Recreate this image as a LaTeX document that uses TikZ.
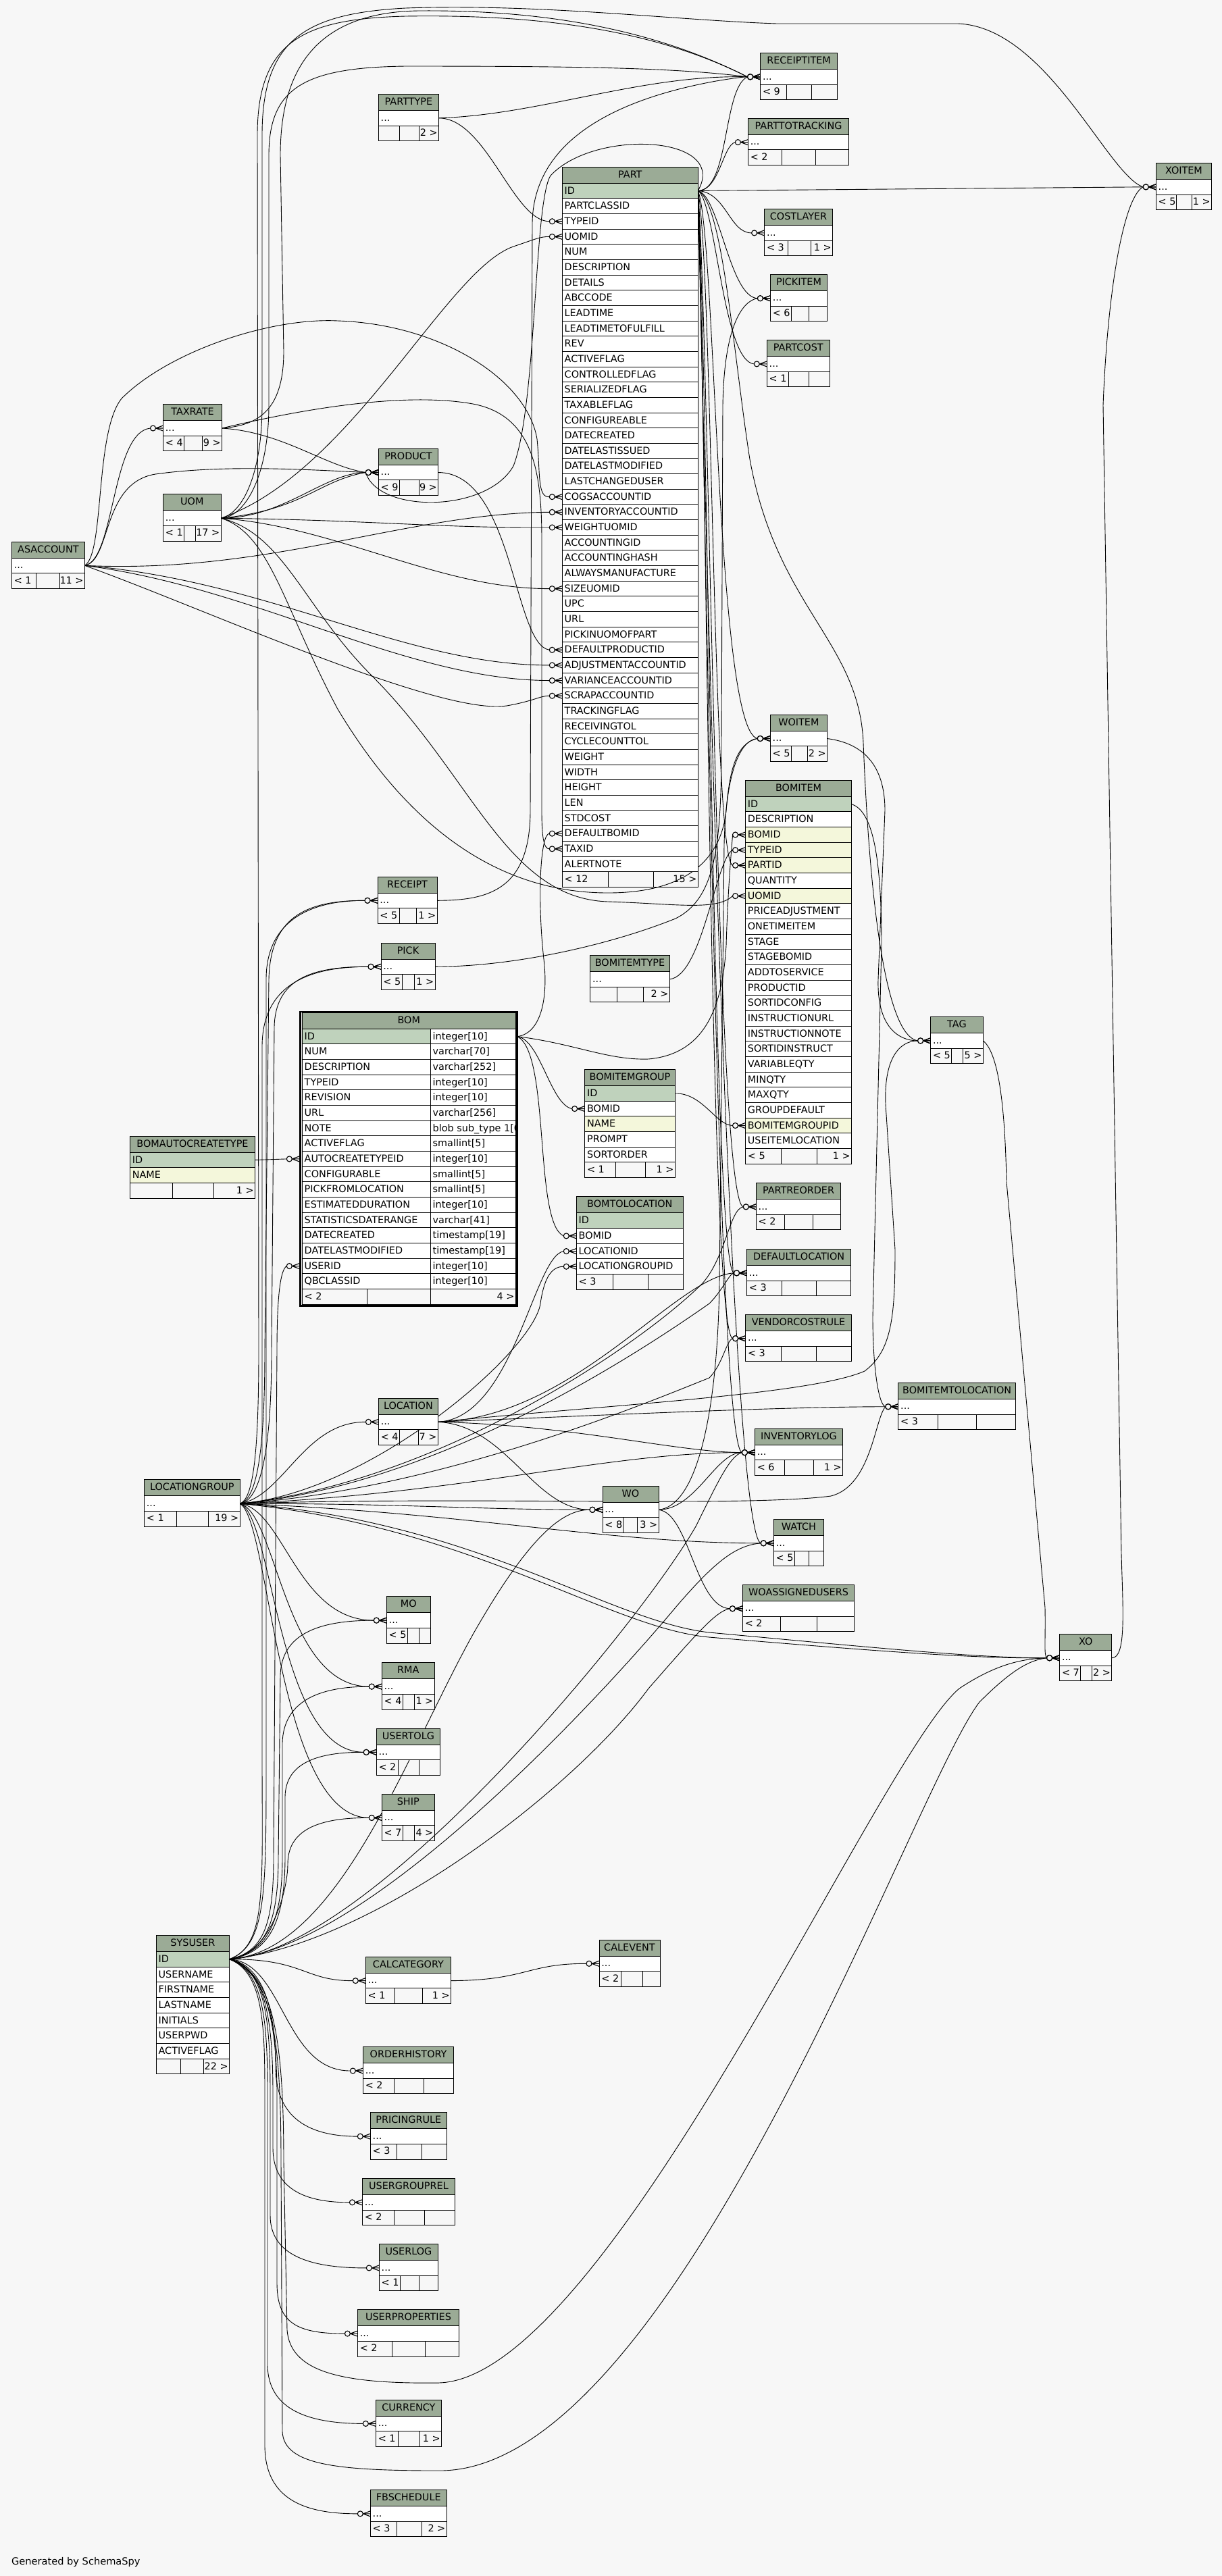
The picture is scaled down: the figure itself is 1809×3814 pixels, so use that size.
\documentclass[tikz,border=0pt]{standalone}
\usepackage{fontspec}
\setmainfont{DejaVu Sans}
\newfontfamily\djv{DejaVu Sans}
\definecolor{bgc}{HTML}{F7F7F7}
\definecolor{hdr}{HTML}{9BAB96}
\definecolor{pkc}{HTML}{BFD2BC}
\definecolor{ixc}{HTML}{F4F7DB}
\newcommand\tabfont{\djv\fontsize{7.2}{8.6}\selectfont}
\pgfdeclarelayer{bglayer}
\pgfdeclarelayer{edgelayer}
\pgfsetlayers{bglayer,edgelayer,main}
\tikzset{
 tx/.style={font=\tabfont, inner sep=0pt, text=black},
 tb/.style={line width=0.5pt},
 ed/.style={line width=0.45pt},
 crl/.style={line width=0.55pt},
}
% small table: name, x1, y1, x2, split1, split2, left footer, right footer
\newcommand\stab[8]{%
 \fill[hdr] (#2,#3) rectangle (#4,#3+24);
 \fill[white] (#2,#3+24) rectangle (#4,#3+46.6);
 \draw[tb] (#2,#3) rectangle (#4,#3+69.2);
 \draw[tb] (#2,#3+24) -- (#4,#3+24) (#2,#3+46.6) -- (#4,#3+46.6)
   (#5,#3+46.6) -- (#5,#3+69.2) (#6,#3+46.6) -- (#6,#3+69.2);
 \node[tx,anchor=base] (#1) at ({(#2+#4)/2},#3+16) {#1};
 \node[tx,anchor=base west] (#1-dots) at (#2+3,#3+39.5) {...};
 \node[tx,anchor=base west] (#1-fl) at (#2+3,#3+62) {#7};
 \node[tx,anchor=base east] (#1-fr) at (#4-1.5,#3+62) {#8};
 \coordinate (#1-w) at (#2,#3+35.3);
 \coordinate (#1-e) at (#4,#3+35.3);
}
% full table: name, x1, y1, x2, rows, split1, split2, left footer, right footer
\newcommand\ftab[9]{%
 \fill[hdr] (#2,#3) rectangle (#4,#3+24);
 \node[tx,anchor=base] (#1) at ({(#2+#4)/2},#3+16) {#1};
 \foreach \rn/\rc [count=\ri from 0] in {#5} {
   \pgfmathsetmacro\ya{#3+24+22.66*\ri}
   \fill[\rc] (#2,\ya) rectangle (#4,\ya+22.66);
   \draw[tb] (#2,\ya) -- (#4,\ya);
   \node[tx,anchor=base west] (#1-\rn) at (#2+3,\ya+16) {\rn};
   \coordinate (#1-\rn-w) at (#2,\ya+11.33);
   \coordinate (#1-\rn-e) at (#4,\ya+11.33);
   \xdef\nrows{\ri}
 }
 \pgfmathsetmacro\yf{#3+24+22.66*(\nrows+1)}
 \draw[tb] (#2,\yf) -- (#4,\yf) (#6,\yf) -- (#6,\yf+22.66) (#7,\yf) -- (#7,\yf+22.66);
 \draw[tb] (#2,#3) rectangle (#4,\yf+22.66);
 \node[tx,anchor=base west] (#1-fl) at (#2+3,\yf+16) {#8};
 \node[tx,anchor=base east] (#1-fr) at (#4-1.5,\yf+16) {#9};
}
\newcommand\ce[1]{%
 \draw[crl] ([xshift=-5.5pt]#1) -- ([yshift=2pt]#1) ([xshift=-5.5pt]#1) -- ([yshift=-2pt]#1) ([xshift=-5.5pt]#1) -- (#1);
 \draw[crl,fill=bgc] ([xshift=-7.5pt]#1) circle[radius=2pt];}
\newcommand\E[2]{\draw[ed] #1 ([xshift=-9.5pt]#2); \ce{#2}}
\begin{document}
\begin{tikzpicture}[x=0.5pt,y=-0.5pt]
\begin{pgfonlayer}{bglayer}
\fill[bgc] (0,0) rectangle (1809,3814);
\end{pgfonlayer}
\useasboundingbox (0,0) rectangle (1809,3814);

% ---------------- tables ----------------
\ftab{PART}{832.3}{247.1}{1033.3}{ID/pkc, PARTCLASSID/white, TYPEID/white, UOMID/white, NUM/white, DESCRIPTION/white, DETAILS/white, ABCCODE/white, LEADTIME/white, LEADTIMETOFULFILL/white, REV/white, ACTIVEFLAG/white, CONTROLLEDFLAG/white, SERIALIZEDFLAG/white, TAXABLEFLAG/white, CONFIGUREABLE/white, DATECREATED/white, DATELASTISSUED/white, DATELASTMODIFIED/white, LASTCHANGEDUSER/white, COGSACCOUNTID/white, INVENTORYACCOUNTID/white, WEIGHTUOMID/white, ACCOUNTINGID/white, ACCOUNTINGHASH/white, ALWAYSMANUFACTURE/white, SIZEUOMID/white, UPC/white, URL/white, PICKINUOMOFPART/white, DEFAULTPRODUCTID/white, ADJUSTMENTACCOUNTID/white, VARIANCEACCOUNTID/white, SCRAPACCOUNTID/white, TRACKINGFLAG/white, RECEIVINGTOL/white, CYCLECOUNTTOL/white, WEIGHT/white, WIDTH/white, HEIGHT/white, LEN/white, STDCOST/white, DEFAULTBOMID/white, TAXID/white, ALERTNOTE/white}{900.3}{967.3}{< 12}{15 >}

\ftab{BOMITEM}{1103.5}{1155.3}{1260.6}{ID/pkc, DESCRIPTION/white, BOMID/ixc, TYPEID/ixc, PARTID/ixc, QUANTITY/white, UOMID/ixc, PRICEADJUSTMENT/white, ONETIMEITEM/white, STAGE/white, STAGEBOMID/white, ADDTOSERVICE/white, PRODUCTID/white, SORTIDCONFIG/white, INSTRUCTIONURL/white, INSTRUCTIONNOTE/white, SORTIDINSTRUCT/white, VARIABLEQTY/white, MINQTY/white, MAXQTY/white, GROUPDEFAULT/white, BOMITEMGROUPID/ixc, USEITEMLOCATION/white}{1156.7}{1209}{< 5}{1 >}

\ftab{BOMITEMGROUP}{865.7}{1583.6}{999.3}{ID/pkc, BOMID/white, NAME/ixc, PROMPT/white, SORTORDER/white}{911.3}{955.7}{< 1}{1 >}
\ftab{BOMTOLOCATION}{853.3}{1771.9}{1011.3}{ID/pkc, BOMID/white, LOCATIONID/white, LOCATIONGROUPID/white}{907.3}{959.3}{< 3}{}
\ftab{BOMAUTOCREATETYPE}{192.4}{1682.1}{377.6}{ID/pkc, NAME/ixc}{255.2}{316.3}{}{1 >}
\ftab{SYSUSER}{231.2}{2865.4}{339.6}{ID/pkc, USERNAME/white, FIRSTNAME/white, LASTNAME/white, INITIALS/white, USERPWD/white, ACTIVEFLAG/white}{267.3}{301.4}{}{22 >}

% BOM (focus table)
\fill[hdr] (447.3,1499.3) rectangle (763.3,1523.3);
\node[tx,anchor=base] (BOM) at (605.3,1515.3) {BOM};
\foreach \rn/\rty/\rc [count=\ri from 0] in {ID/integer[10]/pkc, NUM/varchar[70]/white, DESCRIPTION/varchar[252]/white, TYPEID/integer[10]/white, REVISION/integer[10]/white, URL/varchar[256]/white, NOTE/blob sub\_type 1[0]/white, ACTIVEFLAG/smallint[5]/white, AUTOCREATETYPEID/integer[10]/white, CONFIGURABLE/smallint[5]/white, PICKFROMLOCATION/smallint[5]/white, ESTIMATEDDURATION/integer[10]/white, STATISTICSDATERANGE/varchar[41]/white, DATECREATED/timestamp[19]/white, DATELASTMODIFIED/timestamp[19]/white, USERID/integer[10]/white, QBCLASSID/integer[10]/white}{
 \pgfmathsetmacro\ya{1523.3+22.66*\ri}
 \fill[\rc] (447.3,\ya) rectangle (637.3,\ya+22.66);
 \fill[white] (637.3,\ya) rectangle (763.3,\ya+22.66);
 \draw[tb] (447.3,\ya) -- (763.3,\ya);
 \node[tx,anchor=base west] (BOM-\rn) at (450.3,\ya+16) {\rn};
 \begin{scope}
 \clip (637.3,\ya) rectangle (763.3,\ya+22.66);
 \node[tx,anchor=base west] (BOM-\rn-type) at (640.3,\ya+16) {\rty};
 \end{scope}
 \coordinate (BOM-\rn-w) at (443.3,\ya+11.33);
 \coordinate (BOM-\rn-e) at (766,\ya+11.33);
}
\draw[tb] (447.3,1908.5) -- (763.3,1908.5) (543.3,1908.5) -- (543.3,1931.2) (637.3,1523.3) -- (637.3,1931.2);
\draw[tb] (447.3,1499.3) rectangle (763.3,1931.2);
\node[tx,anchor=base west] (BOM-fl) at (450.3,1924.5) {< 2};
\node[tx,anchor=base east] (BOM-fr) at (761.8,1924.5) {4 >};
\draw[line width=1.3pt] (444.6,1497.9) rectangle (765.3,1933.5);

\stab{PARTTYPE}{560.3}{139.5}{649.6}{591.5}{620.5}{}{2 >}
\stab{RECEIPTITEM}{1125.6}{78.5}{1239.5}{1164.6}{1201.3}{< 9}{}
\stab{PARTTOTRACKING}{1107.4}{175.3}{1256.7}{1157.6}{1207.4}{< 2}{}
\stab{XOITEM}{1711.3}{241.5}{1793.6}{1741.6}{1764.3}{< 5}{1 >}
\stab{COSTLAYER}{1131.6}{309.6}{1232.5}{1166}{1200}{< 3}{1 >}
\stab{PICKITEM}{1140.4}{406.4}{1224.6}{1171.6}{1197.6}{< 6}{}
\stab{PARTCOST}{1135.3}{503.6}{1228.3}{1167.4}{1197.6}{< 1}{}
\stab{TAXRATE}{241.5}{598.7}{328.6}{272.3}{299.6}{< 4}{9 >}
\stab{PRODUCT}{560.3}{664.2}{648.7}{591.5}{620.1}{< 9}{9 >}
\stab{UOM}{241.5}{731.9}{327.2}{272.8}{289.7}{< 1}{17 >}
\stab{ASACCOUNT}{17.4}{802}{125.4}{53.6}{88.8}{< 1}{11 >}
\stab{WOITEM}{1140.3}{1058.2}{1224.5}{1171.3}{1195.8}{< 5}{2 >}
\stab{RECEIPT}{559}{1298}{647}{591}{616}{< 5}{1 >}
\stab{PICK}{564}{1396}{644}{595}{613}{< 5}{1 >}
\stab{BOMITEMTYPE}{873.7}{1414.5}{991.3}{913.3}{952.7}{}{2 >}
\stab{TAG}{1377.6}{1505.6}{1455.3}{1408.2}{1425.8}{< 5}{5 >}
\stab{PARTREORDER}{1119.3}{1751.5}{1244.8}{1161.4}{1203.5}{< 2}{}
\stab{DEFAULTLOCATION}{1105.5}{1849.5}{1259.7}{1157.9}{1208.4}{< 3}{}
\stab{VENDORCOSTRULE}{1103.6}{1946.4}{1260.5}{1156.4}{1208.4}{< 3}{}
\stab{BOMITEMTOLOCATION}{1329.8}{2047.4}{1503.5}{1388.7}{1445.3}{< 3}{}
\stab{LOCATION}{560.4}{2070}{648.4}{591.6}{619.7}{< 4}{7 >}
\stab{INVENTORYLOG}{1117.4}{2115.3}{1247.5}{1161.4}{1204.6}{< 6}{1 >}
\stab{LOCATIONGROUP}{213.5}{2190.9}{355.2}{261.2}{308.5}{< 1}{19 >}
\stab{WO}{892}{2200}{975}{922}{943}{< 8}{3 >}
\stab{WATCH}{1145.3}{2249.5}{1219.5}{1176.3}{1197.3}{< 5}{}
\stab{MO}{572.3}{2363.8}{637.2}{603.2}{620.4}{< 5}{}
\stab{WOASSIGNEDUSERS}{1099.4}{2346.4}{1264.7}{1155.2}{1209.6}{< 2}{}
\stab{XO}{1568.6}{2419.4}{1645.9}{1599.2}{1616.4}{< 7}{2 >}
\stab{RMA}{565.3}{2461.8}{643.2}{596.5}{613.7}{< 4}{1 >}
\stab{USERTOLG}{557.2}{2559}{651.6}{589.1}{620.4}{< 2}{}
\stab{SHIP}{565.3}{2656.1}{643.2}{596.5}{613.7}{< 7}{4 >}
\stab{CALCATEGORY}{541.3}{2897.3}{667.6}{584.8}{625.5}{< 1}{1 >}
\stab{CALEVENT}{887}{2872}{977}{919}{951}{< 2}{}
\stab{ORDERHISTORY}{537.4}{3030.7}{671.8}{583.7}{627.6}{< 2}{}
\stab{PRICINGRULE}{548.3}{3127.8}{661.2}{587.2}{624.4}{< 3}{}
\stab{USERGROUPREL}{536.4}{3225.5}{673.5}{583.7}{628.6}{< 2}{}
\stab{USERLOG}{561.3}{3322.6}{648.6}{592.5}{620.2}{< 1}{}
\stab{USERPROPERTIES}{529.4}{3419.8}{679.5}{580.2}{629.3}{< 2}{}
\stab{CURRENCY}{556.4}{3553.1}{653.5}{589.3}{621.2}{< 1}{1 >}
\stab{FBSCHEDULE}{548.3}{3686.5}{661.2}{587.2}{624.4}{< 3}{2 >}

\node[anchor=base west, inner sep=0pt, font=\djv\fontsize{7.3}{9}\selectfont] (gen) at (16.7,3797) {Generated by SchemaSpy};

% ---------------- connectors ----------------
\begin{pgfonlayer}{edgelayer}
% PART.ID
\E{(PART-ID-e) .. controls (1080,282) and (1070,130) ..}{RECEIPTITEM-w}
\E{(PART-ID-e) .. controls (1065,282) and (1070,215) ..}{PARTTOTRACKING-w}
\E{(PART-ID-e) --}{XOITEM-w}
\E{(PART-ID-e) .. controls (1075,285) and (1080,345) ..}{COSTLAYER-w}
\E{(PART-ID-e) .. controls (1065,290) and (1080,440) ..}{PICKITEM-w}
\E{(PART-ID-e) .. controls (1060,300) and (1070,535) ..}{PARTCOST-w}
\E{(PART-ID-e) .. controls (1060,350) and (1060,1080) ..}{WOITEM-w}
\E{(PART-ID-e) .. controls (1055,400) and (1055,1270) ..}{BOMITEM-PARTID-w}
\E{(PART-ID-e) .. controls (1050,500) and (1060,1780) ..}{PARTREORDER-w}
\E{(PART-ID-e) .. controls (1048,550) and (1055,1880) ..}{DEFAULTLOCATION-w}
\E{(PART-ID-e) .. controls (1046,600) and (1050,1975) ..}{VENDORCOSTRULE-w}
\E{(PART-ID-e) .. controls (1044,650) and (1060,2140) ..}{INVENTORYLOG-w}
\E{(PART-ID-e) .. controls (1042,700) and (1080,2270) ..}{WATCH-w}
\E{(PART-ID-e) .. controls (1070,300) and (1085,520) .. (1110,680) .. controls (1150,900) and (1272,950) .. (1278,1100) .. controls (1290,1400) and (1320,1535) ..}{TAG-w}
\E{(PART-ID-e) .. controls (1080,200) and (880,190) .. (815,260) .. controls (790,300) and (795,600) .. (760,690) .. controls (720,760) and (560,760) ..}{PRODUCT-w}
% UOM
\E{(UOM-e) .. controls (520,700) and (660,400) .. (760,365) .. controls (790,355) and (800,350) ..}{PART-UOMID-w}
\E{(UOM-e) .. controls (360,760) and (388,700) .. (388,600) -- (388,200) .. controls (388,60) and (450,20) .. (600,12) .. controls (800,5) and (1000,30) .. (1150,35) -- (1418,35) .. controls (1550,40) and (1640,260) ..}{XOITEM-w}
\E{(UOM-e) .. controls (365,765) and (398,700) .. (398,600) -- (398,230) .. controls (398,130) and (450,100) .. (600,98) .. controls (850,98) and (1000,100) ..}{RECEIPTITEM-w}
\E{(UOM-e) .. controls (420,767) and (480,700) ..}{PRODUCT-w}
\E{(UOM-e) .. controls (450,755) and (470,712) ..}{PRODUCT-w}
\E{(UOM-e) .. controls (550,770) and (650,782) ..}{PART-WEIGHTUOMID-w}
\E{(UOM-e) .. controls (500,780) and (650,872) ..}{PART-SIZEUOMID-w}
\E{(UOM-e) .. controls (420,790) and (450,900) .. (550,1000) .. controls (700,1150) and (750,1330) .. (900,1335) .. controls (1000,1338) and (1060,1349) ..}{BOMITEM-UOMID-w}
\E{(UOM-e) .. controls (400,790) and (420,900) .. (500,1050) .. controls (620,1250) and (760,1322) .. (900,1322) .. controls (1040,1322) and (1070,1250) .. (1075,1200) .. controls (1080,1140) and (1090,1100) ..}{WOITEM-w}
% ASACCOUNT
\E{(ASACCOUNT-e) .. controls (170,830) and (165,640) ..}{TAXRATE-w}
\E{(ASACCOUNT-e) .. controls (165,830) and (150,715) .. (230,702) .. controls (330,688) and (450,695) ..}{PRODUCT-w}
\E{(ASACCOUNT-e) .. controls (155,820) and (140,640) .. (180,590) .. controls (250,520) and (400,470) .. (500,475) .. controls (650,480) and (780,560) .. (795,650) .. controls (800,700) and (795,737) ..}{PART-COGSACCOUNTID-w}
\E{(ASACCOUNT-e) .. controls (400,850) and (600,760) ..}{PART-INVENTORYACCOUNTID-w}
\E{(ASACCOUNT-e) .. controls (400,860) and (600,985) ..}{PART-ADJUSTMENTACCOUNTID-w}
\E{(ASACCOUNT-e) .. controls (380,870) and (600,1007) ..}{PART-VARIANCEACCOUNTID-w}
\E{(ASACCOUNT-e) .. controls (300,900) and (650,1060) .. (750,1045) .. controls (790,1038) and (800,1030) ..}{PART-SCRAPACCOUNTID-w}
% TAXRATE
\E{(TAXRATE-e) .. controls (420,640) and (480,690) ..}{PRODUCT-w}
\E{(TAXRATE-e) .. controls (450,605) and (600,580) .. (700,598) .. controls (790,615) and (802,700) .. (802,800) -- (802,1200) .. controls (802,1240) and (805,1257) ..}{PART-TAXID-w}
\E{(TAXRATE-e) .. controls (380,630) and (420,610) .. (420,520) -- (415,230) .. controls (415,100) and (470,18) .. (620,16) .. controls (850,14) and (1000,60) ..}{RECEIPTITEM-w}
% PARTTYPE
\E{(PARTTYPE-e) .. controls (800,170) and (950,110) ..}{RECEIPTITEM-w}
\E{(PARTTYPE-e) .. controls (720,175) and (760,328) ..}{PART-TYPEID-w}
% PRODUCT
\E{(PRODUCT-e) .. controls (760,700) and (760,955) ..}{PART-DEFAULTPRODUCTID-w}
% RECEIPT, PICK
\E{(RECEIPT-e) .. controls (720,1333) and (785,1320) .. (785,1200) -- (788,330) .. controls (790,190) and (950,140) .. (1060,120) .. controls (1090,115) and (1100,114) ..}{RECEIPTITEM-w}
\E{(PICK-e) .. controls (760,1431) and (900,1400) .. (1000,1360) .. controls (1060,1330) and (1068,1250) .. (1068,1100) -- (1070,600) .. controls (1072,480) and (1100,445) ..}{PICKITEM-w}
% BOM
\E{(BOM-ID-e) .. controls (800,1530) and (812,1480) .. (805,1420) .. controls (795,1330) and (800,1234) ..}{PART-DEFAULTBOMID-w}
\E{(BOM-ID-e) .. controls (850,1545) and (900,1570) .. (960,1568) .. controls (1050,1560) and (1070,1480) .. (1075,1400) .. controls (1078,1300) and (1085,1236) ..}{BOMITEM-BOMID-w}
\E{(BOM-ID-e) .. controls (800,1540) and (815,1635) ..}{BOMITEMGROUP-BOMID-w}
\E{(BOM-ID-e) .. controls (815,1560) and (790,1810) ..}{BOMTOLOCATION-BOMID-w}
\E{(BOMAUTOCREATETYPE-ID-e) --}{BOM-AUTOCREATETYPEID-w}
% BOMITEMTYPE, BOMITEMGROUP, BOMITEM
\E{(BOMITEMTYPE-e) .. controls (1040,1445) and (1060,1270) ..}{BOMITEM-TYPEID-w}
\E{(BOMITEMGROUP-ID-e) .. controls (1040,1618) and (1060,1666) ..}{BOMITEM-BOMITEMGROUPID-w}
\E{(BOMITEM-ID-e) .. controls (1290,1200) and (1305,1260) .. (1305,1400) -- (1292,1950) .. controls (1292,2020) and (1300,2080) ..}{BOMITEMTOLOCATION-w}
% WOITEM, TAG, XO
\E{(WOITEM-e) .. controls (1275,1100) and (1310,1130) .. (1310,1200) -- (1300,1450) .. controls (1298,1520) and (1330,1541) ..}{TAG-w}
\E{(TAG-e) .. controls (1480,1560) and (1488,1650) .. (1490,1750) -- (1547,2380) .. controls (1548,2430) and (1545,2450) ..}{XO-w}
\E{(XO-e) .. controls (1668,2455) and (1662,2380) .. (1660,2300) -- (1633,600) .. controls (1640,420) and (1665,290) ..}{XOITEM-w}
% LOCATION
\E{(LOCATION-e) .. controls (900,2080) and (1200,2065) .. (1280,2030) .. controls (1320,2000) and (1325,1950) .. (1325,1850) -- (1312,1650) .. controls (1305,1570) and (1330,1541) ..}{TAG-w}
\E{(LOCATION-e) .. controls (900,2095) and (1150,2083) ..}{BOMITEMTOLOCATION-w}
\E{(LOCATION-e) .. controls (760,2100) and (790,1860) ..}{BOMTOLOCATION-LOCATIONID-w}
\E{(LOCATION-e) .. controls (850,2100) and (1000,1890) ..}{DEFAULTLOCATION-w}
\E{(LOCATION-e) .. controls (850,2110) and (1000,2150) ..}{INVENTORYLOG-w}
\E{(LOCATION-e) .. controls (750,2110) and (790,2235) ..}{WO-w}
% LOCATIONGROUP
\E{(LOCATIONGROUP-e) .. controls (420,2215) and (450,2105) ..}{LOCATION-w}
\E{(LOCATIONGROUP-e) .. controls (420,2235) and (440,2399) ..}{MO-w}
\E{(LOCATIONGROUP-e) .. controls (410,2240) and (420,2497) ..}{RMA-w}
\E{(LOCATIONGROUP-e) .. controls (405,2245) and (410,2594) ..}{USERTOLG-w}
\E{(LOCATIONGROUP-e) .. controls (400,2250) and (410,2691) ..}{SHIP-w}
\E{(LOCATIONGROUP-e) .. controls (600,2226) and (700,2235) ..}{WO-w}
\E{(LOCATIONGROUP-e) .. controls (700,2210) and (900,2150) ..}{INVENTORYLOG-w}
\E{(LOCATIONGROUP-e) .. controls (700,2215) and (1100,2232) .. (1230,2215) .. controls (1290,2200) and (1295,2100) ..}{BOMITEMTOLOCATION-w}
\E{(LOCATIONGROUP-e) .. controls (700,2240) and (900,2285) ..}{WATCH-w}
\E{(LOCATIONGROUP-e) .. controls (700,2250) and (900,2400) .. (1050,2417) .. controls (1300,2440) and (1450,2455) ..}{XO-w}
\E{(LOCATIONGROUP-e) .. controls (700,2260) and (900,2410) .. (1050,2424) .. controls (1300,2445) and (1450,2456) ..}{XO-w}
\E{(LOCATIONGROUP-e) .. controls (380,2220) and (392,2150) .. (392,2000) -- (398,1450) .. controls (400,1360) and (450,1333) ..}{RECEIPT-w}
\E{(LOCATIONGROUP-e) .. controls (385,2222) and (402,2150) .. (402,2000) -- (406,1520) .. controls (408,1450) and (460,1431) ..}{PICK-w}
\E{(LOCATIONGROUP-e) .. controls (550,2210) and (790,2000) .. (800,1930) .. controls (805,1895) and (815,1875) ..}{BOMTOLOCATION-LOCATIONGROUPID-w}
\E{(LOCATIONGROUP-e) .. controls (650,2200) and (950,2000) .. (1050,1930) .. controls (1070,1910) and (1080,1885) ..}{DEFAULTLOCATION-w}
\E{(LOCATIONGROUP-e) .. controls (650,2195) and (950,1990) .. (1040,1900) .. controls (1075,1860) and (1080,1790) ..}{PARTREORDER-w}
\E{(LOCATIONGROUP-e) .. controls (650,2205) and (950,2080) .. (1050,2040) .. controls (1070,2020) and (1075,1985) ..}{VENDORCOSTRULE-w}
\E{(LOCATIONGROUP-e) .. controls (375,2220) and (383,2150) .. (383,2000) -- (381,200) .. controls (381,60) and (450,28) .. (600,24) .. controls (850,20) and (1000,60) ..}{RECEIPTITEM-w}
% SYSUSER
\E{(SYSUSER-ID-e) .. controls (450,2900) and (450,2933) ..}{CALCATEGORY-w}
\E{(SYSUSER-ID-e) .. controls (420,2905) and (420,3066) ..}{ORDERHISTORY-w}
\E{(SYSUSER-ID-e) .. controls (395,2910) and (408,2990) .. (408,3060) .. controls (408,3130) and (450,3163) ..}{PRICINGRULE-w}
\E{(SYSUSER-ID-e) .. controls (395,2912) and (404,3000) .. (404,3100) -- (404,3180) .. controls (404,3240) and (450,3261) ..}{USERGROUPREL-w}
\E{(SYSUSER-ID-e) .. controls (395,2914) and (400,3000) .. (400,3100) -- (400,3280) .. controls (400,3340) and (460,3358) ..}{USERLOG-w}
\E{(SYSUSER-ID-e) .. controls (395,2916) and (410,3000) .. (410,3100) -- (410,3380) .. controls (410,3440) and (440,3455) ..}{USERPROPERTIES-w}
\E{(SYSUSER-ID-e) .. controls (392,2918) and (396,3000) .. (396,3100) -- (396,3500) .. controls (396,3570) and (460,3588) ..}{CURRENCY-w}
\E{(SYSUSER-ID-e) .. controls (390,2920) and (392,3000) .. (392,3100) -- (392,3620) .. controls (392,3700) and (450,3722) ..}{FBSCHEDULE-w}
\E{(SYSUSER-ID-e) .. controls (390,2890) and (405,2850) .. (405,2750) -- (410,2000) .. controls (410,1920) and (415,1880) ..}{BOM-USERID-w}
\E{(SYSUSER-ID-e) .. controls (392,2890) and (412,2850) .. (412,2750) -- (415,2480) .. controls (417,2420) and (470,2399) ..}{MO-w}
\E{(SYSUSER-ID-e) .. controls (394,2890) and (418,2850) .. (418,2750) -- (418,2580) .. controls (420,2520) and (470,2497) ..}{RMA-w}
\E{(SYSUSER-ID-e) .. controls (396,2892) and (422,2850) .. (422,2750) -- (422,2660) .. controls (423,2610) and (470,2594) ..}{USERTOLG-w}
\E{(SYSUSER-ID-e) .. controls (400,2895) and (426,2800) .. (426,2760) .. controls (426,2710) and (470,2691) ..}{SHIP-w}
\E{(SYSUSER-ID-e) .. controls (500,2890) and (600,2600) .. (700,2420) .. controls (780,2280) and (830,2235) ..}{WO-w}
\E{(SYSUSER-ID-e) .. controls (550,2880) and (850,2650) .. (960,2500) .. controls (1030,2420) and (1060,2385) ..}{WOASSIGNEDUSERS-w}
\E{(SYSUSER-ID-e) .. controls (550,2885) and (900,2500) .. (1000,2380) .. controls (1060,2310) and (1090,2288) ..}{WATCH-w}
\E{(SYSUSER-ID-e) .. controls (550,2890) and (950,2400) .. (1030,2260) .. controls (1060,2200) and (1080,2155) ..}{INVENTORYLOG-w}
\E{(SYSUSER-ID-e) .. controls (400,2920) and (420,3000) .. (420,3200) -- (425,3450) .. controls (430,3510) and (500,3530) .. (650,3528) .. controls (900,3520) and (1300,2600) .. (1420,2500) .. controls (1480,2460) and (1520,2456) ..}{XO-w}
\E{(SYSUSER-ID-e) .. controls (400,2925) and (416,3000) .. (416,3200) -- (418,3600) .. controls (420,3650) and (500,3658) .. (650,3658) .. controls (1000,3660) and (1350,2650) .. (1450,2520) .. controls (1500,2470) and (1525,2458) ..}{XO-w}
\E{(SYSUSER-ID-e) .. controls (395,2880) and (394,2800) .. (394,2600) -- (394,1450) .. controls (394,1370) and (450,1333) ..}{RECEIPT-w}
\E{(SYSUSER-ID-e) .. controls (395,2880) and (388,2800) .. (388,2600) -- (388,1550) .. controls (388,1470) and (440,1431) ..}{PICK-w}
% WO
\E{(WO-e) .. controls (1030,2230) and (1062,2100) .. (1065,1900) -- (1072,1250) .. controls (1075,1130) and (1100,1095) ..}{WOITEM-w}
\E{(WO-e) .. controls (1020,2240) and (1030,2380) ..}{WOASSIGNEDUSERS-w}
\E{(WO-e) .. controls (1030,2235) and (1060,2150) ..}{INVENTORYLOG-w}
% CALCATEGORY
\E{(CALCATEGORY-e) .. controls (780,2932) and (780,2907) ..}{CALEVENT-w}
\end{pgfonlayer}
\end{tikzpicture}
\end{document}
